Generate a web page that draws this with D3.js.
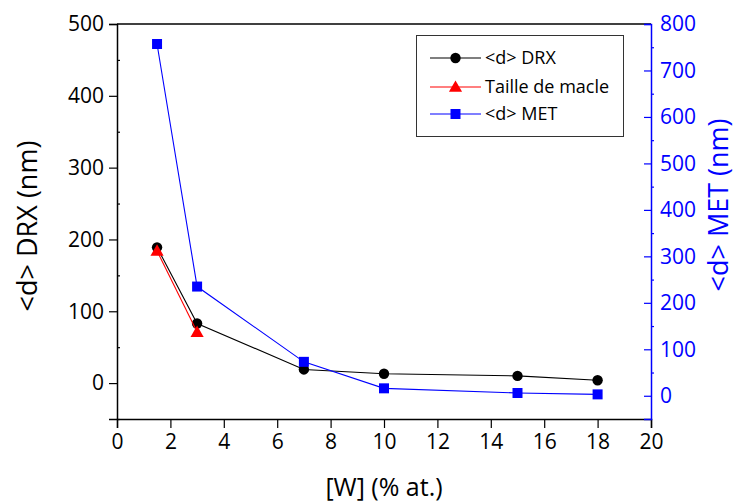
<!DOCTYPE html>
<html><head><meta charset="utf-8">
<script src="https://cdn.jsdelivr.net/npm/d3@7"></script>
<style>body{margin:0;background:#fff}svg{display:block}</style>
</head><body><svg id="c" width="738" height="504"></svg>
<script>
const xW = [1.5, 3, 7, 10, 15, 18];
const drx = [189, 83, 19, 13, 10, 4];
const xMacle = [1.5, 3];
const macle = [184, 71];
const met = [757, 235, 73, 16, 6, 3];
const xTicks = [0,2,4,6,8,10,12,14,16,18,20];
const yLeftTicks = [0,100,200,300,400,500];
const yRightTicks = [0,100,200,300,400,500,600,700,800];
const legendLabels = ["<d> DRX", "Taille de macle", "<d> MET"];

const svg = d3.select("#c");
const L = 117, R = 651, T = 24, B = 419;
const x = d3.scaleLinear().domain([0,20]).range([L,R]);
const yL = d3.scaleLinear().domain([-50,500]).range([B,T]);
const yR = d3.scaleLinear().domain([-50,800]).range([B,T]);
const font = "'Open Sans', sans-serif";
const blue = "#0000ff";

// top border
svg.append("line").attr("x1",L).attr("x2",R).attr("y1",T).attr("y2",T).attr("stroke","#000").attr("stroke-width",1.5);

// bottom axis
const gx = svg.append("g").attr("transform",`translate(0,${B})`);
gx.call(d3.axisBottom(x).tickValues(d3.range(1,20,2)).tickSize(4).tickFormat(""));
gx.call(d3.axisBottom(x).tickValues(xTicks).tickSize(9).tickFormat(d3.format("d")).tickPadding(6));
gx.selectAll(".domain").attr("stroke","#000").attr("stroke-width",1.5);
gx.selectAll("line").attr("stroke","#000").attr("stroke-width",1.2);
gx.selectAll("text").attr("font-family",font).attr("font-size",21).attr("fill","#000");

// left axis
const gl = svg.append("g").attr("transform",`translate(${L},0)`);
gl.call(d3.axisRight(yL).tickValues([-50,50,150,250,350,450]).tickSize(3).tickFormat(""));
gl.selectAll(".domain").remove();
const gl2 = svg.append("g").attr("transform",`translate(${L},0)`);
gl2.call(d3.axisLeft(yL).tickValues(yLeftTicks).tickSize(8).tickPadding(5).tickFormat(d3.format("d")));
[gl,gl2].forEach(g=>{g.selectAll("line").attr("stroke","#000").attr("stroke-width",1.2);});
gl2.selectAll(".domain").attr("stroke","#000").attr("stroke-width",1.5);
gl2.selectAll("text").attr("font-family",font).attr("font-size",21).attr("fill","#000");

// right axis
const gr = svg.append("g").attr("transform",`translate(${R},0)`);
gr.call(d3.axisRight(yR).tickValues([50,150,250,350,450,550,650,750]).tickSize(3).tickFormat(""));
gr.selectAll(".domain").remove();
const gr2 = svg.append("g").attr("transform",`translate(${R},0)`);
gr2.call(d3.axisLeft(yR).tickValues(yRightTicks).tickSize(7).tickFormat(d3.format("d")));
[gr,gr2].forEach(g=>{g.selectAll("line").attr("stroke",blue).attr("stroke-width",1.2);});
gr2.selectAll(".domain").attr("stroke",blue).attr("stroke-width",1.5);
gr2.selectAll("text").attr("x",9).attr("text-anchor","start").attr("font-family",font).attr("font-size",21).attr("fill",blue);

// axis titles
svg.append("text").attr("transform",`translate(37,226) rotate(-90)`).attr("text-anchor","middle")
  .attr("font-family",font).attr("font-size",27).attr("fill","#000").text("<d> DRX (nm)");
svg.append("text").attr("transform",`translate(728,205) rotate(-90)`).attr("text-anchor","middle")
  .attr("font-family",font).attr("font-size",27).attr("fill",blue).text("<d> MET (nm)");
svg.append("text").attr("x",384).attr("y",496).attr("text-anchor","middle")
  .attr("font-family",font).attr("font-size",25).attr("fill","#000").text("[W] (% at.)");

// series
const lineL = d3.line().x(d=>x(d[0])).y(d=>yL(d[1]));
const lineR = d3.line().x(d=>x(d[0])).y(d=>yR(d[1]));
const dDrx = xW.map((v,i)=>[v,drx[i]]);
const dMac = xMacle.map((v,i)=>[v,macle[i]]);
const dMet = xW.map((v,i)=>[v,met[i]]);
const sym = {circle:d3.symbol().type(d3.symbolCircle).size(85),
  tri:d3.symbol().type(d3.symbolTriangle).size(75),
  sq:d3.symbol().type(d3.symbolSquare).size(100)};

svg.append("path").attr("d",lineL(dDrx)).attr("fill","none").attr("stroke","#000").attr("stroke-width",1.1);
svg.selectAll(".pd").data(dDrx).join("path").attr("d",sym.circle()).attr("fill","#000")
  .attr("transform",d=>`translate(${x(d[0])},${yL(d[1])})`);
svg.append("path").attr("d",lineL(dMac)).attr("fill","none").attr("stroke","#ff0000").attr("stroke-width",1.1);
svg.selectAll(".pm").data(dMac).join("path").attr("d",sym.tri()).attr("fill","#ff0000")
  .attr("transform",d=>`translate(${x(d[0])},${yL(d[1])+1})`);
svg.append("path").attr("d",lineR(dMet)).attr("fill","none").attr("stroke",blue).attr("stroke-width",1.1);
svg.selectAll(".pb").data(dMet).join("path").attr("d",sym.sq()).attr("fill",blue)
  .attr("transform",d=>`translate(${x(d[0])},${yR(d[1])})`);

// legend
const lg = svg.append("g");
lg.append("rect").attr("x",416.5).attr("y",35.5).attr("width",207).attr("height",101)
  .attr("fill","#fff").attr("stroke","#333").attr("stroke-width",1);
const colors = ["#000","#ff0000",blue];
const syms = [sym.circle, sym.tri, sym.sq];
const ly = [58, 87, 114];
legendLabels.forEach((t,i)=>{
  lg.append("line").attr("x1",430).attr("x2",481).attr("y1",ly[i]).attr("y2",ly[i]).attr("stroke",colors[i]).attr("stroke-width",1.1);
  lg.append("path").attr("d",syms[i]()).attr("fill",colors[i]).attr("transform",`translate(455.5,${ly[i]+(i==1?1:0)})`);
  lg.append("text").attr("x",485).attr("y",ly[i]).attr("dy","0.35em").attr("font-family",font)
    .attr("font-size",18).attr("fill","#000").text(t);
});
</script></body></html>
